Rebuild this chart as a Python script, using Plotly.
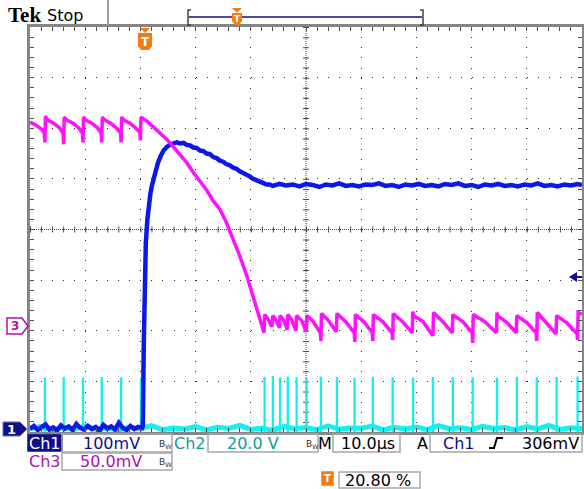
import plotly.graph_objects as go

# ====================================== Data ================================================ #

### Time base is in microseconds relative to the trigger point (10 us/div, trigger at 20.8 %)
t_start, t_stop = -20.8, 79.2

### Ch1 (blue, 100 mV/div)
ch1_t = [-20.8, -20.1, -19.4, -18.7, -18.0, -17.3, -16.6, -15.9, -15.2, -14.5,
         -13.8, -13.1, -12.4, -11.7, -11.0, -10.3, -9.6, -8.9, -8.2, -7.5,
         -6.8, -6.1, -5.4, -4.7, -4.0, -3.3, -2.6, -1.9, -1.2, -0.5,
         -0.36, -0.18, 0.0, 0.18, 0.45, 0.72, 1.0, 1.27, 1.8, 2.36, 2.9, 3.4,
         4.0, 4.6, 5.2, 5.8, 6.4, 7.0, 7.6, 8.2, 8.8, 9.4, 10.0, 10.6,
         11.2, 11.8, 12.4, 13.0, 13.6, 14.2, 14.8, 15.4, 16.0, 16.6, 17.2, 17.8,
         18.4, 19.0, 19.6, 20.2, 20.8, 21.4, 22.0, 22.6,
         23.2, 24.4, 25.6, 26.8, 28.0, 29.2, 30.4, 31.6, 32.8, 34.0,
         35.2, 36.4, 37.6, 38.8, 40.0, 41.2, 42.4, 43.6, 44.8, 46.0,
         47.2, 48.4, 49.6, 50.8, 52.0, 53.2, 54.4, 55.6, 56.8, 58.0,
         59.2, 60.4, 61.6, 62.8, 64.0, 65.2, 66.4, 67.6, 68.8, 70.0,
         71.2, 72.4, 73.6, 74.8, 76.0, 77.2, 78.4, 79.2]
ch1_mv = [6, 12, 4, 10, 15, 5, 9, 3, 13, 7,
          11, 4, 16, 8, 5, 12, 6, 10, 3, 14,
          7, 11, 5, 18, 8, 4, 12, 6, 10, 8,
          12, 180, 306, 372, 418, 449, 470, 486, 510, 531, 546, 556,
          563, 568, 570, 572, 570, 571, 567, 566, 562, 561, 556, 555,
          550, 549, 543, 541, 536, 534, 529, 527, 522, 520, 515, 512,
          508, 505, 500, 498, 494, 492, 489, 489,
          486, 490, 487, 489, 485, 490, 488, 484, 489, 487,
          491, 486, 488, 485, 489, 488, 491, 486, 488, 484,
          489, 487, 490, 486, 488, 485, 490, 488, 491, 486,
          488, 484, 489, 487, 490, 486, 488, 485, 489, 487,
          491, 486, 488, 485, 489, 487, 490, 488]

### Ch3 (magenta, 50 mV/div)
ch3_t = [-20.8, -19.7, -18.7, -18.2, -18.1, -18.0, -17.6, -16.5, -15.4, -14.8, -14.7, -14.6,
         -14.1, -13.0, -11.9, -11.3, -11.2, -11.1, -10.7, -9.6, -8.5, -7.9, -7.8, -7.7,
         -7.2, -6.2, -5.1, -4.4, -4.3, -4.2, -3.8, -2.7, -1.6, -0.9, -0.8, -0.7,
         0.4, 1.4, 2.7, 4.0, 5.1, 6.3, 7.6, 8.7, 10.0, 11.2,
         12.3, 13.6, 14.7, 15.9, 17.2, 18.5, 19.6, 20.5, 21.2, 21.6,
         21.7, 22.3, 23.0, 23.2, 23.7, 24.4, 24.5, 25.2, 25.8, 25.9,
         26.6, 27.4, 27.5, 28.4, 29.25, 29.35, 30.4, 31.8, 31.9, 32.0,
         33.3, 34.7, 34.8, 36.4, 37.95, 38.05, 38.15, 39.7, 41.2, 41.3,
         41.4, 43.1, 44.8, 44.9, 45.0, 46.7, 48.45, 48.55, 48.65, 50.4,
         52.1, 52.2, 52.3, 54.0, 55.7, 55.8, 57.6, 59.3, 59.4, 59.5,
         61.6, 63.7, 63.8, 63.9, 65.6, 67.3, 67.4, 69.2, 70.9, 71.0,
         71.1, 72.8, 74.5, 74.6, 76.4, 78.3, 78.4, 78.5, 79.2]
ch3_mv = [206, 203, 199, 195, 186, 212, 208, 205, 200, 195, 184, 211,
          208, 205, 200, 195, 186, 211, 208, 205, 200, 195, 186, 211,
          208, 205, 200, 195, 186, 211, 208, 205, 200, 196, 188, 211,
          207, 202, 195, 189, 182, 174, 166, 157, 148, 139,
          129, 120, 108, 92, 74, 54, 35, 19, 5, -2,
          16, 12, 4, 15, 11, 3, 15, 10, 1, 16,
          11, 0, 15, 10, -1, 15, 10, -2, -10, 17,
          10, -1, 17, 9, -2, -11, 16, 9, -2, -10,
          16, 9, -2, -9, 17, 9, -2, 19, 15, 9,
          -3, -5, 18, 9, -2, 16, 9, -2, -12, 16,
          9, -2, 18, 15, 8, -2, 15, 8, -2, -10,
          18, 8, -3, 15, 8, -3, -9, 18, 16]

### Ch2 (cyan, 20 V/div): baseline and gate pulses
ch2_base_t = [-20.8, -18.8, -16.8, -14.8, -12.8, -10.8, -8.8, -6.8, -4.8, -2.8,
              -0.8, 1.2, 3.2, 5.2, 7.2, 9.2, 11.2, 13.2, 15.2, 17.2,
              19.2, 21.2, 23.2, 25.2, 27.2, 29.2, 31.2, 33.2, 35.2, 37.2,
              39.2, 41.2, 43.2, 45.2, 47.2, 49.2, 51.2, 53.2, 55.2, 57.2,
              59.2, 61.2, 63.2, 65.2, 67.2, 69.2, 71.2, 73.2, 75.2, 77.2, 79.2]
ch2_base_v = [1.4, 2.2, 0.8, 1.8, 1.1, 2.4, 1.0, 1.7, 0.7, 2.0,
              1.3, 2.5, 0.9, 1.6, 1.2, 2.1, 0.8, 1.9, 1.4, 2.6,
              1.0, 1.5, 0.7, 2.2, 1.3, 1.8, 0.9, 2.4, 1.1, 1.6,
              1.5, 2.3, 0.8, 1.9, 1.2, 2.0, 0.9, 2.5, 1.3, 1.7,
              1.0, 2.2, 1.4, 1.8, 0.8, 2.1, 1.2, 2.6, 1.0, 1.7, 1.3]
ch2_pulse_t = [-18.1, -14.7, -11.2, -7.8, -4.3, -0.7, 21.7, 23.2, 24.5, 25.9,
               27.5, 29.3, 31.9, 34.8, 38.0, 41.3, 44.9, 48.6, 52.2, 55.8,
               59.4, 63.8, 67.4, 71.0, 74.6, 78.4]
ch2_pulse_v = [21.5, 21.8, 21.5, 21.7, 21.6, 21.4, 21.8, 22.2, 21.5, 21.9,
               21.6, 21.5, 21.9, 21.7, 21.5, 21.8, 21.6, 21.5, 21.8, 21.6,
               21.7, 21.5, 21.8, 21.6, 21.7, 21.9]

### Readout texts
ch1_scale, ch2_scale, ch3_scale = '100mV', '20.0 V', '50.0mV'
time_scale, trig_level, trig_pos = '10.0\u00b5s', '306mV', '20.80 %'

# ====================================== Layout helpers ====================================== #

W, H = 584, 489
L, R, T, B = 30, 582, 27, 432          # screen graticule in pixels

NAVY, TEAL, PURPLE, ORANGE = '#10108a', '#109c9c', '#b010b0', '#f07c18'


def fx(x):
    return x / W


def fy(y):
    return 1 - y / H


def poly(points, closed=True):
    path = 'M ' + ' L '.join(f'{fx(x):.5f},{fy(y):.5f}' for x, y in points)
    return path + (' Z' if closed else '')


shapes = []
annotations = []


def add_path(points, fill=None, line='rgba(0,0,0,0)', width=1, closed=True):
    shapes.append(dict(type='path', xref='paper', yref='paper', path=poly(points, closed),
                       fillcolor=fill if fill else 'rgba(0,0,0,0)',
                       line=dict(color=line, width=width), layer='above'))


def add_box(x0, y0, x1, y1, fill=None, line='#a8a8a8'):
    shapes.append(dict(type='rect', xref='paper', yref='paper', x0=fx(x0), x1=fx(x1),
                       y0=fy(y0), y1=fy(y1), fillcolor=fill if fill else 'rgba(0,0,0,0)',
                       line=dict(color=line, width=1.5), layer='above'))


def add_text(x, y, text, color='black', size=16, anchor='center',
             family='DejaVu Sans, sans-serif'):
    annotations.append(dict(x=fx(x), y=fy(y), xref='paper', yref='paper', text=text,
                            showarrow=False, xanchor=anchor, yanchor='middle',
                            font=dict(family=family, size=size, color=color)))


def add_badge(cx, top, w, h, tri, size):
    # orange trigger "T" marker with a small pointer on top
    add_path([(cx - tri, top - 5), (cx + tri, top - 5), (cx, top)], fill=ORANGE)
    add_path([(cx - w / 2, top), (cx + w / 2, top), (cx + w / 2, top + h - 4),
              (cx + w / 2 - 3, top + h), (cx - w / 2 + 3, top + h),
              (cx - w / 2, top + h - 4)], fill=ORANGE)
    add_text(cx, top + h / 2, '<b>T</b>', 'white', size)


# ====================================== Figure ============================================== #

fig = go.Figure()

fig.add_trace(go.Bar(x=ch2_pulse_t, y=ch2_pulse_v, width=0.42, yaxis='y2',
                     marker=dict(color='#14f0f0', line=dict(width=0)), hoverinfo='skip'))
fig.add_trace(go.Scatter(x=ch2_base_t, y=ch2_base_v, yaxis='y2', mode='lines',
                         line=dict(color='#14f0f0', width=5), hoverinfo='skip'))
fig.add_trace(go.Scatter(x=ch1_t, y=ch1_mv, yaxis='y3', mode='lines',
                         line=dict(color='#0c18e8', width=4.5), hoverinfo='skip'))
fig.add_trace(go.Scatter(x=ch3_t, y=ch3_mv, yaxis='y4', mode='lines',
                         line=dict(color='#ff10ff', width=3.5), hoverinfo='skip'))

t_mid = (t_start + t_stop) / 2

# -- center cross: dense dotted line plus 1/5 division tick marks -- #
for dash, width in (('1px,1px', 1), ('1px,10.04px', 6)):
    shapes.append(dict(type='line', xref='x', yref='y', x0=t_start, x1=t_stop, y0=0, y1=0,
                       line=dict(color='#4a4a4a', width=width, dash=dash), layer='between'))
for dash, width in (('1px,1px', 1), ('1px,9.125px', 6)):
    shapes.append(dict(type='line', xref='x', yref='y', x0=t_mid, x1=t_mid, y0=4, y1=-4,
                       line=dict(color='#4a4a4a', width=width, dash=dash), layer='between'))

# -- header -- #
add_text(6, 15, '<b>Tek</b>', 'black', 21, 'left', 'Liberation Serif, serif')
add_text(45, 16, 'Stop', 'black', 16, 'left')
add_path([(108, 0), (108, 25)], line='#a0a0a0', width=2, closed=False)
add_path([(191, 10), (188, 10), (188, 25), (191, 25)], line='#404040', width=1.5, closed=False)
add_path([(420, 10), (423, 10), (423, 25), (420, 25)], line='#404040', width=1.5, closed=False)
add_path([(189, 17), (422, 17)], line=NAVY, width=1.5, closed=False)
add_badge(237, 13, 10, 12, 5, 9)
add_badge(145, 33, 14, 17, 5, 12)

# -- channel ground markers and trigger level arrow -- #
add_path([(7, 318), (22, 318), (28, 326), (22, 334), (7, 334)], fill='white', line=PURPLE, width=1.5)
add_text(15, 326, '<b>3</b>', PURPLE, 12)
add_path([(3, 422), (20, 422), (27, 429), (20, 436), (3, 436)], fill=NAVY, line='#6a6ab0', width=1)
add_text(11.5, 429, '<b>1</b>', 'white', 13)
add_path([(569, 277), (577, 272), (577, 282)], fill=NAVY)
add_path([(576, 277), (582, 277)], line=NAVY, width=2, closed=False)

# -- readouts, row 1 -- #
add_box(28, 435, 62, 451, fill=NAVY, line=NAVY)
add_text(45, 443, 'Ch1', 'white')
add_box(62, 434, 172, 452)
add_text(111, 443, ch1_scale, NAVY)
add_text(165, 444, 'B<sub>W</sub>', '#303030', 9)
add_text(190, 443, 'Ch2', TEAL)
add_box(208, 434, 318, 452)
add_text(253, 443, ch2_scale, TEAL)
add_text(312, 444, 'B<sub>W</sub>', '#303030', 9)
add_text(325, 443, 'M', 'black')
add_box(333, 434, 400, 452)
add_text(368, 443, time_scale, 'black')
add_text(422, 443, 'A', 'black')
add_box(430, 434, 582, 452)
add_text(459, 443, 'Ch1', NAVY)
add_path([(489, 448), (494, 448), (497, 438), (503, 438)], line='black', width=2, closed=False)
add_text(550, 443, trig_level, 'black')

# -- readouts, row 2 -- #
add_text(45, 461, 'Ch3', PURPLE)
add_box(62, 453, 172, 470)
add_text(111, 461, ch3_scale, PURPLE)
add_text(165, 462, 'B<sub>W</sub>', '#303030', 9)

# -- readouts, row 3 -- #
add_box(322, 472, 333, 485, fill=ORANGE, line=ORANGE)
add_text(327.5, 478.5, '<b>T</b>', 'white', 10)
add_box(339, 472, 420, 488)
add_text(343, 480, trig_pos, 'black', 16, 'left')

axis_common = dict(showticklabels=False, zeroline=False, showline=True, linewidth=3,
                   linecolor='#858585', mirror='allticks', ticks='inside', ticklen=4,
                   tickcolor='#505050', showgrid=True, gridcolor='#2a2a2a', gridwidth=1)

fig.update_layout(
    width=W, height=H, margin=dict(l=0, r=0, t=0, b=0),
    paper_bgcolor='white', plot_bgcolor='white', showlegend=False,
    xaxis=dict(range=[t_start, t_stop], domain=[fx(L), fx(R)], tick0=t_start, dtick=10,
               griddash='1px,9.125px',
               minor=dict(ticks='inside', ticklen=4, tick0=t_start, dtick=2,
                          tickcolor='#505050', showgrid=False),
               **axis_common),
    yaxis=dict(range=[-4, 4], domain=[fy(B), fy(T)], tick0=-4, dtick=1,
               griddash='1px,10.04px',
               minor=dict(ticks='inside', ticklen=4, tick0=-4, dtick=0.2,
                          tickcolor='#505050', showgrid=False),
               **axis_common),
    yaxis2=dict(range=[0, 160], overlaying='y', anchor='x', visible=False),
    yaxis3=dict(range=[0, 800], overlaying='y', anchor='x', visible=False),
    yaxis4=dict(range=[-100, 300], overlaying='y', anchor='x', visible=False),
    shapes=shapes, annotations=annotations,
)

fig.write_html('out.html', config={'displayModeBar': False},
               post_script="document.body.style.margin='0';")
